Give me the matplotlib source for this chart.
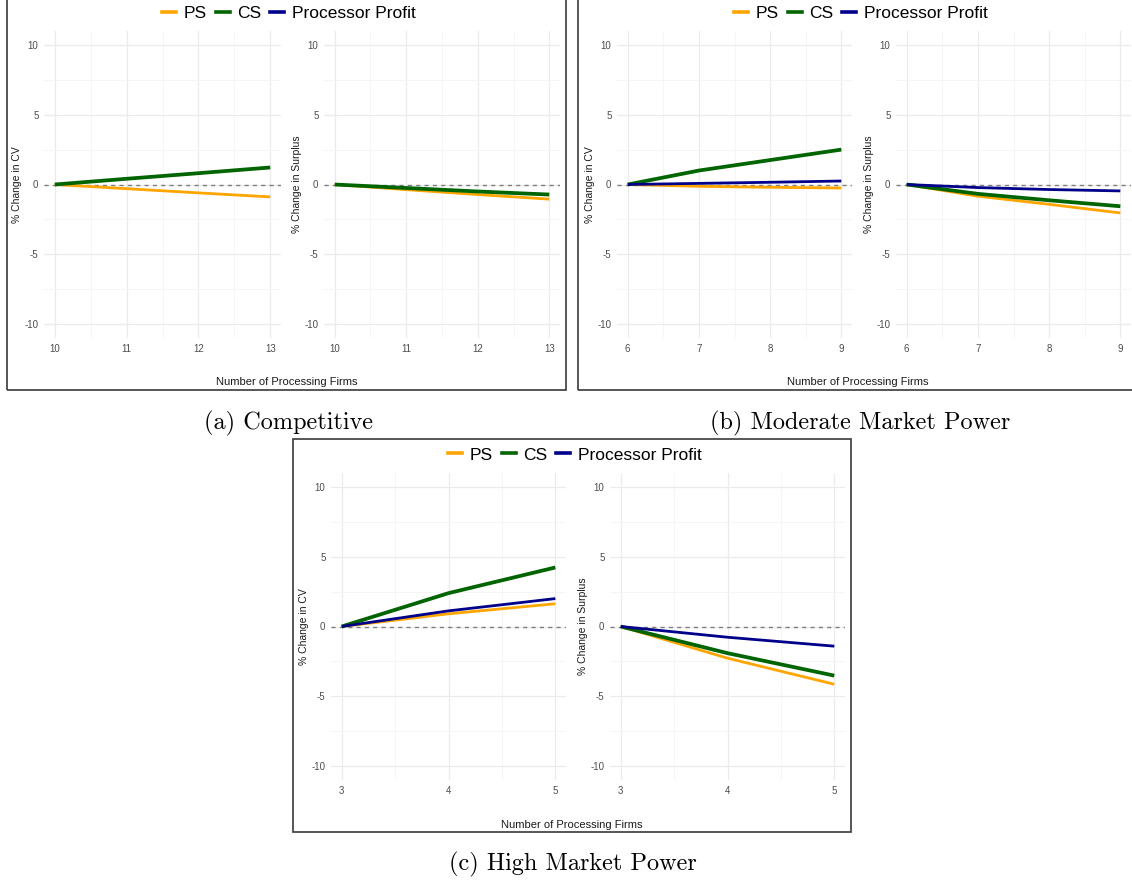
import numpy as np
import matplotlib
matplotlib.use("Agg")
import matplotlib.pyplot as plt
from matplotlib.lines import Line2D
from matplotlib.patches import Rectangle
from matplotlib.ticker import MultipleLocator

plt.rcParams['font.family'] = ['Liberation Sans', 'DejaVu Sans']
plt.rcParams['axes.unicode_minus'] = False

nan = np.nan

# (a) Competitive
n_a = [10, 11, 12, 13]
a_cv_ps = [0, -0.30, -0.60, -0.89]
a_cv_cs = [0, 0.41, 0.81, 1.22]
a_cv_pp = [nan, nan, nan, nan]
a_sur_ps = [0, -0.37, -0.72, -1.05]
a_sur_cs = [0, -0.25, -0.50, -0.72]
a_sur_pp = [nan, nan, nan, nan]

# (b) Moderate Market Power
n_b = [6, 7, 8, 9]
b_cv_ps = [0, -0.13, -0.20, -0.25]
b_cv_cs = [0, 1.00, 1.75, 2.50]
b_cv_pp = [0, 0.08, 0.16, 0.25]
b_sur_ps = [0, -0.84, -1.42, -2.04]
b_sur_cs = [0, -0.67, -1.13, -1.56]
b_sur_pp = [0, -0.22, -0.36, -0.46]

# (c) High Market Power
n_c = [3, 4, 5]
c_cv_ps = [0, 0.91, 1.63]
c_cv_cs = [0, 2.39, 4.23]
c_cv_pp = [0, 1.12, 2.00]
c_sur_ps = [0, -2.27, -4.14]
c_sur_cs = [0, -1.91, -3.52]
c_sur_pp = [0, -0.77, -1.41]

series_names = ['PS', 'CS', 'Processor Profit']
colors = ['#FFA500', '#006400', '#00008B']
widths = [2.0, 2.7, 2.0]

W, H = 1132, 884
fig = plt.figure(figsize=(W / 100, H / 100), dpi=100)


def px_axes(x0, x1, y0, y1):
    return fig.add_axes([x0 / W, 1 - y1 / H, (x1 - x0) / W, (y1 - y0) / H])


def draw(ax, n, ps, cs, pp, ylabel):
    ax.axhline(0, color='#7F7F7F', lw=1.0, ls=(0, (3, 3)), zorder=1)
    for vals, c, lw in zip([ps, cs, pp], colors, widths):
        ax.plot(n, vals, color=c, lw=lw, zorder=2, solid_capstyle='butt')
    span = n[-1] - n[0]
    ax.set_xlim(n[0] - 0.05 * span, n[-1] + 0.05 * span)
    ax.set_ylim(-11, 11)
    ax.set_xticks(n)
    ax.xaxis.set_minor_locator(MultipleLocator(0.5))
    ax.yaxis.set_major_locator(MultipleLocator(5))
    ax.yaxis.set_minor_locator(MultipleLocator(2.5))
    ax.grid(which='major', color='#EBEBEB', lw=0.9)
    ax.grid(which='minor', color='#F4F4F4', lw=0.6)
    ax.set_axisbelow(True)
    for s in ax.spines.values():
        s.set_visible(False)
    ax.tick_params(which='both', length=0, labelsize=7, labelcolor='#4D4D4D', pad=4)
    ax.set_ylabel(ylabel, fontsize=7.5, color='#1A1A1A', labelpad=1.5)


panels = [
    # x0 of left axes, x1, x0 of right axes, x1, y top, y bottom
    (44, 281, 324, 560, 31, 338, n_a, a_cv_ps, a_cv_cs, a_cv_pp, a_sur_ps, a_sur_cs, a_sur_pp),
    (617, 852, 896, 1131, 31, 338, n_b, b_cv_ps, b_cv_cs, b_cv_pp, b_sur_ps, b_sur_cs, b_sur_pp),
    (331, 566, 610, 845, 473, 780, n_c, c_cv_ps, c_cv_cs, c_cv_pp, c_sur_ps, c_sur_cs, c_sur_pp),
]

handles = [Line2D([], [], color=c, lw=2.6) for c in colors]
legend_pos = [(289, 13), (861, 13), (575, 455)]
xlabel_pos = [(287, 382), (858, 382), (572, 825)]

for (lx0, lx1, rx0, rx1, yt, yb, n, cps, ccs, cpp, sps, scs, spp), lp, xp in zip(panels, legend_pos, xlabel_pos):
    ax1 = px_axes(lx0, lx1, yt, yb)
    draw(ax1, n, cps, ccs, cpp, '% Change in CV')
    ax2 = px_axes(rx0, rx1, yt, yb)
    draw(ax2, n, sps, scs, spp, '% Change in Surplus')
    fig.legend(handles, series_names, loc='center', bbox_to_anchor=(lp[0] / W, 1 - lp[1] / H),
               ncol=3, frameon=False, fontsize=12.5, handlelength=0.8, handletextpad=0.45,
               columnspacing=0.5, borderpad=0, borderaxespad=0)
    fig.text(xp[0] / W, 1 - xp[1] / H, 'Number of Processing Firms', ha='center', va='center',
             fontsize=8, color='#1A1A1A')

# frames around each panel
for x0, y0, x1, y1 in [(7, -10, 566, 390), (578, -10, 1145, 390), (293, 439, 851, 832)]:
    fig.patches.append(Rectangle((x0 / W, 1 - y1 / H), (x1 - x0) / W, (y1 - y0) / H,
                                 transform=fig.transFigure, fill=False, edgecolor='#3A3A3A',
                                 lw=1.2, clip_on=False))

captions = ['(a) Competitive', '(b) Moderate Market Power', '(c) High Market Power']
caption_pos = [(288, 423), (860, 423), (573, 864)]
for txt, (cx, cy) in zip(captions, caption_pos):
    fig.text(cx / W, 1 - cy / H, txt, ha='center', va='center', fontsize=17.5,
             family=['cmr10', 'DejaVu Serif'])

fig.savefig('out.png', dpi=100)
